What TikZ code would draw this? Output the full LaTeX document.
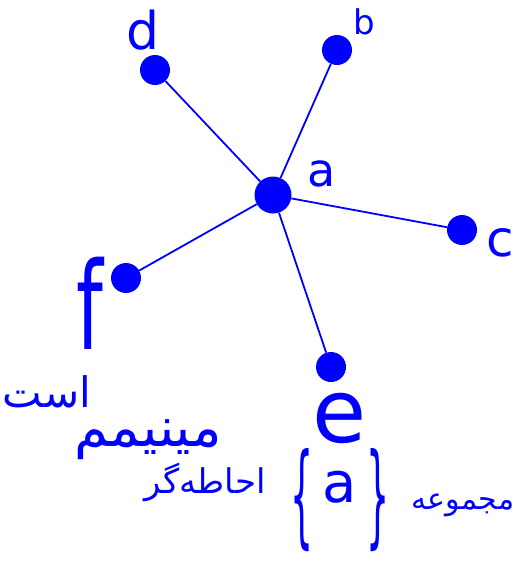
\documentclass[tikz,border=0pt]{standalone}
\usepackage{fontspec}
\usepackage{graphicx}
\setmainfont{DejaVu Sans}
\newfontfamily\arabicfont[Script=Arabic]{DejaVu Sans}
\TeXXeTstate=1
\usetikzlibrary{positioning}

\newcommand{\tallbrace}[1]{\raisebox{-31pt}{\scalebox{0.65}[2.0]{#1}}}

\begin{document}
\begin{tikzpicture}[x=1pt,y=-1pt,
  vtx/.style={circle,fill=blue,inner sep=0pt,minimum size=30pt},
  ctr/.style={vtx,minimum size=37pt},
  edge/.style={draw=blue,line width=1.8pt},
  lbl/.style={text=blue,inner sep=0pt,font=\fontsize{#1}{#1}\selectfont},
  ar/.style={text=blue,inner sep=0pt,font=\arabicfont\fontsize{#1}{#1}\selectfont}]
  \useasboundingbox (0,0) rectangle (518,565);
  % vertices
  \node[ctr] (a) at (273,195) {};
  \node[vtx] (b) at (337,50) {};
  \node[vtx] (c) at (462,230) {};
  \node[vtx] (d) at (155,70) {};
  \node[vtx] (e) at (331,367) {};
  \node[vtx] (f) at (126,278) {};
  \foreach \v in {b,c,d,e,f}
    \draw[edge] (a) -- (\v);
  % names
  \node[lbl=46] (la) at (322,174) {a};
  \node[lbl=34] (lb) at (364,22) {b};
  \node[lbl=52] (ld) at (143,30) {d};
  \node[lbl=50] (lc) at (500,243) {c};
  \node[lbl=76] (lf) at (90,303) {\scalebox{1}[1.6]{f}};
  \node[lbl=88] (le) at (340,418) {e};
  % caption
  \node[ar=30] (w1) at (463,505) {\beginR مجموعه\endR};
  \node[lbl=56,anchor=base] (set) at (340,502) {\tallbrace{\{}\,a\,\tallbrace{\}}};
  \node[ar=34] (w2) at (205,482) {\beginR احاطه‌گر\endR};
  \node[ar=55] (w3) at (148,440) {\beginR مینیمم\endR};
  \node[ar=42] (w4) at (47,392) {\beginR است\endR};
\end{tikzpicture}
\end{document}
